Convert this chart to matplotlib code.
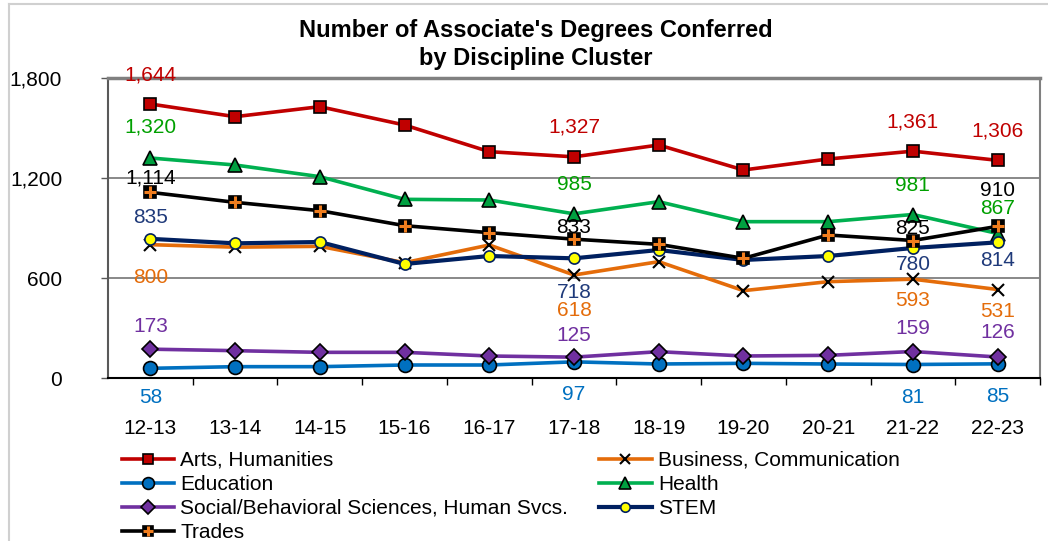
import matplotlib.pyplot as plt
from matplotlib.lines import Line2D
from matplotlib.legend_handler import HandlerTuple
from matplotlib.ticker import FuncFormatter, FixedLocator
import numpy as np

plt.rcParams["font.family"] = ["Liberation Sans", "DejaVu Sans"]

years = ["12-13", "13-14", "14-15", "15-16", "16-17", "17-18",
         "18-19", "19-20", "20-21", "21-22", "22-23"]

arts = [1644, 1568, 1628, 1518, 1358, 1327, 1398, 1248, 1314, 1361, 1306]
business = [800, 785, 790, 692, 798, 618, 698, 524, 578, 593, 531]
education = [58, 68, 68, 78, 78, 97, 84, 88, 84, 81, 85]
health = [1320, 1278, 1208, 1072, 1068, 985, 1058, 938, 938, 981, 867]
social = [173, 164, 154, 154, 132, 125, 158, 132, 136, 159, 126]
stem = [835, 808, 816, 684, 732, 718, 768, 708, 732, 780, 814]
trades = [1114, 1054, 1004, 914, 872, 833, 802, 718, 858, 825, 910]

# which points get a value label
labeled = [0, 5, 9, 10]

fig = plt.figure(figsize=(10.48, 5.41), dpi=100)
ax = fig.add_axes([108 / 1048, 1 - 378 / 541, 932 / 1048, 300 / 541])
x = np.arange(len(years))

# name, values, line colour, marker, marker face, marker edge, marker size, label colour, label offsets (px)
series = [
    ("Arts, Humanities", arts, "#C00000", "s", "#C00000", "black", 9, "#C00000",
     [29, 30, 29, 29]),
    ("Business, Communication", business, "#E46C0A", "x", "black", "black", 9, "#E46C0A",
     [-33, -35, -21, -22]),
    ("Education", education, "#0070C0", "o", "#0070C0", "black", 10, "#0070C0",
     [-29, -33, -33, -33]),
    ("Health", health, "#00B050", "^", "#00A040", "black", 10, "#00A000",
     [31, 29, 29, 25]),
    ("Social/Behavioral Sciences, Human Svcs.", social, "#7030A0", "D", "#7030A0", "black", 8, "#7030A0",
     [23, 22, 23, 24]),
    ("STEM", stem, "#002060", "o", "#FFFF00", "#002060", 8, "#1F3A7A",
     [21, -34, -17, -18]),
    ("Trades", trades, "black", "s", "black", "black", 9, "black",
     [14, 12, 12, 36]),
]

handles = {}
for name, vals, lc, mk, mf, me, ms, tc, offs in series:
    lw = 3.0 if name == "STEM" else 2.6
    line, = ax.plot(x, vals, color=lc, lw=lw, marker=mk, markersize=ms,
                    markerfacecolor=mf, markeredgecolor=me,
                    markeredgewidth=1.5 if mk == "x" else 1.2, zorder=3)
    handles[name] = line
    for i, dy in zip(labeled, offs):
        ax.annotate(f"{vals[i]:,}", (x[i], vals[i]), xytext=(0, dy),
                    textcoords="offset pixels", ha="center", va="center",
                    fontsize=15, color=tc, zorder=5, annotation_clip=False)

# orange cross on top of the black Trades squares
plus, = ax.plot(x, trades, ls="none", marker="+", markersize=9,
                markeredgecolor="#F07D1E", markeredgewidth=2.2, zorder=4)

ax.set_xlim(-0.5, len(years) - 0.5)
ax.set_ylim(0, 1800)
ax.set_yticks([0, 600, 1200, 1800])
ax.yaxis.set_major_formatter(FuncFormatter(lambda v, p: f"{int(v):,}"))
ax.tick_params(axis="y", length=5, width=1, pad=28, labelsize=15, color="#595959")
ax.grid(axis="y", color="#7f7f7f", lw=1.3, zorder=0)

ax.set_xticks(x)
ax.set_xticklabels(years)
ax.xaxis.set_minor_locator(FixedLocator(np.arange(0.5, len(years), 1.0)))
ax.tick_params(axis="x", which="major", length=0, pad=29.5, labelsize=15)
ax.tick_params(axis="x", which="minor", length=5, width=1, color="black")

ax.spines["left"].set_color("#595959")
ax.spines["left"].set_linewidth(1.5)
ax.spines["bottom"].set_color("black")
ax.spines["bottom"].set_linewidth(1.5)
ax.spines["right"].set_color("#808080")
ax.spines["right"].set_linewidth(1.5)
ax.spines["top"].set_color("#808080")
ax.spines["top"].set_linewidth(2.5)

fig.text(536 / 1048, 1 - 31 / 541, "Number of Associate's Degrees Conferred",
         ha="center", va="center", fontsize=17, fontweight="bold")
fig.text(536 / 1048, 1 - 59 / 541, "by Discipline Cluster",
         ha="center", va="center", fontsize=17, fontweight="bold")

# light frame around the chart
fig.add_artist(Line2D([9 / 1048, 1], [1 - 4 / 541] * 2, color="#D0D0D0", lw=1.5))
fig.add_artist(Line2D([9 / 1048] * 2, [0, 1 - 4 / 541], color="#D0D0D0", lw=1.5))

order = ["Arts, Humanities", "Education", "Social/Behavioral Sciences, Human Svcs.",
         "Trades", "Business, Communication", "Health", "STEM"]
leg_handles = [(handles[n], plus) if n == "Trades" else handles[n] for n in order]
fig.legend(leg_handles, order, ncol=2, loc="upper left",
           bbox_to_anchor=(122 / 1048, 1 - 451 / 541), frameon=False,
           fontsize=15, handlelength=2.5, handletextpad=0.3, columnspacing=1.5,
           labelspacing=0.24, borderpad=0, borderaxespad=0, markerscale=0.85,
           handler_map={tuple: HandlerTuple(ndivide=1)})

fig.savefig("out.png", dpi=100)
